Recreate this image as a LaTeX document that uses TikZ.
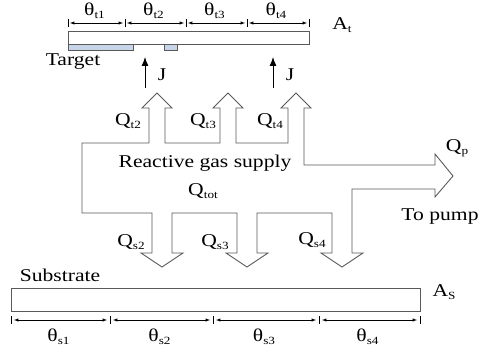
\documentclass[tikz,border=0pt]{standalone}
\usepackage{fontspec}
\setmainfont{Liberation Serif}
\usepackage{xcolor}
\usepackage{tikz}
\usetikzlibrary{arrows, arrows.meta, positioning, calc}
\definecolor{patch}{RGB}{198,214,232}
\newcommand{\lo}[1]{\raisebox{-0.35ex}{\fontsize{11}{11}\selectfont #1}}

\begin{document}
\begin{tikzpicture}[x=1pt, y=-1pt]
\tikzstyle{txt}=[font=\fontsize{18}{20}\selectfont, xscale=1.2, inner sep=0pt]
\tikzstyle{outline}=[draw=black!65, line width=0.9pt, line join=miter]
\tikzstyle{bar}=[draw=black!65, line width=0.9pt, fill=white]
\tikzstyle{dim}=[latex-latex, line width=0.5pt]
\tikzstyle{tickmark}=[line width=0.7pt]
\tikzstyle{flux}=[-{Latex[length=9pt, width=7pt]}, line width=0.9pt]

\useasboundingbox (0,0) rectangle (481,350);

% target with its sectors
\draw[bar] (68,31) rectangle (309,44);
\draw[outline, fill=patch] (68,44) rectangle (133,50);
\draw[outline, fill=patch] (164,44) rectangle (177,50);
\foreach \x in {68,125,186,247,309}
  \draw[tickmark] (\x,19) -- (\x,27);
\foreach \a/\b/\n in {68/125/1,125/186/2,186/247/3,247/309/4} {
  \draw[dim] (\a+2,23) -- (\b-2,23);
  \node[txt] (tt\n) at ({(\a+\b)/2-2},11) {θ\lo{t\n}};
}
\node[txt] (at) at (342,25) {A\lo{t}};
\node[txt] (target) at (73,62) {Target};

% ion current
\coordinate (j1s) at (145,88);
\coordinate (j1e) at (145,57);
\coordinate (j2s) at (273,88);
\coordinate (j2e) at (273,57);
\draw[flux] (j1s) -- (j1e);
\draw[flux] (j2s) -- (j2e);
\node[txt] (j1) at (162,75) {J};
\node[txt] (j2) at (290,75) {J};

% gas flows
\draw[outline] (82,143) -- (149,143) -- (149,108) -- (142,108) -- (157,93) -- (172,108) -- (165,108) -- (165,143)
  -- (220,143) -- (220,108) -- (213,108) -- (228,93) -- (243,108) -- (236,108) -- (236,143)
  -- (288,143) -- (288,108) -- (281,108) -- (296,93) -- (311,108) -- (304,108) -- (304,165)
  -- (435,165) -- (435,154) -- (453,176) -- (435,197) -- (435,189) -- (352,189)
  -- (352,253) -- (363,253) -- (342,267) -- (321,253) -- (332,253) -- (332,213)
  -- (257,213) -- (257,253) -- (268,253) -- (247,267) -- (226,253) -- (237,253) -- (237,213)
  -- (172,213) -- (172,253) -- (183,253) -- (162,267) -- (141,253) -- (152,253) -- (152,213)
  -- (82,213) -- cycle;
\node[txt] (qt2) at (128,121) {Q\lo{t2}};
\node[txt] (qt3) at (203,121) {Q\lo{t3}};
\node[txt] (qt4) at (270,121) {Q\lo{t4}};
\node[txt] (supply) at (205,163) {Reactive gas supply};
\node[txt] (qtot) at (203,191) {Q\lo{tot}};
\node[txt] (qp) at (457,148) {Q\lo{p}};
\node[txt] (pump) at (440,217) {To pump};
\node[txt] (qs2) at (131,242) {Q\lo{s2}};
\node[txt] (qs3) at (215,242) {Q\lo{s3}};
\node[txt] (qs4) at (312,240) {Q\lo{s4}};

% substrate with its sectors
\node[txt] (substrate) at (60,275) {Substrate};
\draw[bar] (11,288) rectangle (420,311);
\node[txt] (as) at (444,292) {A\lo{S}};
\foreach \x in {11,110,213,319,420}
  \draw[tickmark] (\x,316) -- (\x,324);
\foreach \a/\b/\n in {11/110/1,110/213/2,213/319/3,319/420/4} {
  \draw[dim] (\a+3,320) -- (\b-3,320);
  \node[txt] (ts\n) at ({(\a+\b)/2-2},337) {θ\lo{s\n}};
}

\end{tikzpicture}
\end{document}
